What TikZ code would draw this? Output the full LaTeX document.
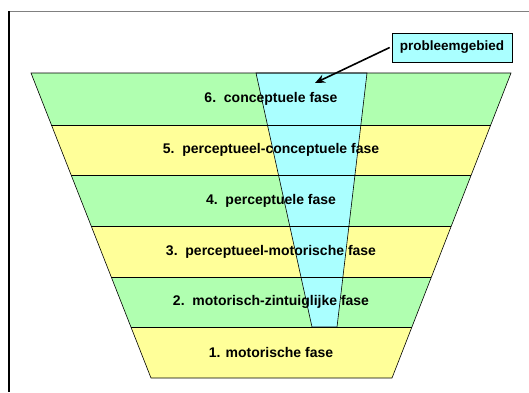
\documentclass[tikz,border=0pt]{standalone}
\usepackage{fontspec}
\setmainfont{Liberation Sans}
\usetikzlibrary{arrows.meta}
\begin{document}
\begin{tikzpicture}[x=1pt,y=-1pt,
  band/.style={draw=black,line width=0.6pt},
  lbl/.style={font=\bfseries\fontsize{14}{16}\selectfont,inner sep=0pt},
  callout/.style={draw=black,fill=probblue,line width=0.6pt,font=\bfseries\fontsize{13.5}{15}\selectfont,minimum width=120pt,minimum height=29pt,inner sep=0pt},
  arr/.style={-{Stealth[length=10pt,width=8.5pt]},line width=1.6pt}
]
\definecolor{bandgreen}{RGB}{176,255,176}
\definecolor{bandyellow}{RGB}{255,255,153}
\definecolor{probblue}{RGB}{170,255,255}
\useasboundingbox (0,0) rectangle (529,392);
\fill[white] (0,0) rectangle (529,392);
% frame
\draw[gray,line width=0.8pt] (9,11) -- (529,11);
\draw[black,line width=1.4pt] (9,11) -- (9,392);
% band corner coordinates
\coordinate (L0) at (31,73);     \coordinate (R0) at (511,73);
\coordinate (L1) at (51.46,125); \coordinate (R1) at (490.71,125);
\coordinate (L2) at (71.13,175); \coordinate (R2) at (471.20,175);
\coordinate (L3) at (91.20,226); \coordinate (R3) at (451.31,226);
\coordinate (L4) at (111.26,277);\coordinate (R4) at (431.41,277);
\coordinate (L5) at (130.93,327);\coordinate (R5) at (411.90,327);
\coordinate (L6) at (151,378);   \coordinate (R6) at (392,378);
\fill[bandgreen]  (L0) -- (R0) -- (R1) -- (L1) -- cycle;
\fill[bandyellow] (L1) -- (R1) -- (R2) -- (L2) -- cycle;
\fill[bandgreen]  (L2) -- (R2) -- (R3) -- (L3) -- cycle;
\fill[bandyellow] (L3) -- (R3) -- (R4) -- (L4) -- cycle;
\fill[bandgreen]  (L4) -- (R4) -- (R5) -- (L5) -- cycle;
\fill[bandyellow] (L5) -- (R5) -- (R6) -- (L6) -- cycle;
% blue problem area
\path[fill=probblue,draw=black,line width=0.6pt] (256,73) -- (367,73) -- (337,327) -- (312,327) -- cycle;
\draw[band] (L0) -- (R0) -- (R6) -- (L6) -- cycle;
\draw[band] (L1) -- (R1) (L2) -- (R2) (L3) -- (R3) (L4) -- (R4) (L5) -- (R5);
\node[lbl] (f6) at (271,99) {6.\ \ conceptuele fase};
\node[lbl] (f5) at (271,150) {5.\ \ perceptueel-conceptuele fase};
\node[lbl] (f4) at (271,200.5) {4.\ \ perceptuele fase};
\node[lbl] (f3) at (271,251.5) {3.\ \ perceptueel-motorische fase};
\node[lbl] (f2) at (271,302) {2.\ \ motorisch-zintuiglijke fase};
\node[lbl] (f1) at (271,352.5) {1. motorische fase};
\node[callout] (pg) at (452,47.5) {probleemgebied};
\coordinate (tip) at (315,83);
\draw[arr] ([xshift=-2pt]pg.west) -- (tip);
\end{tikzpicture}
\end{document}
